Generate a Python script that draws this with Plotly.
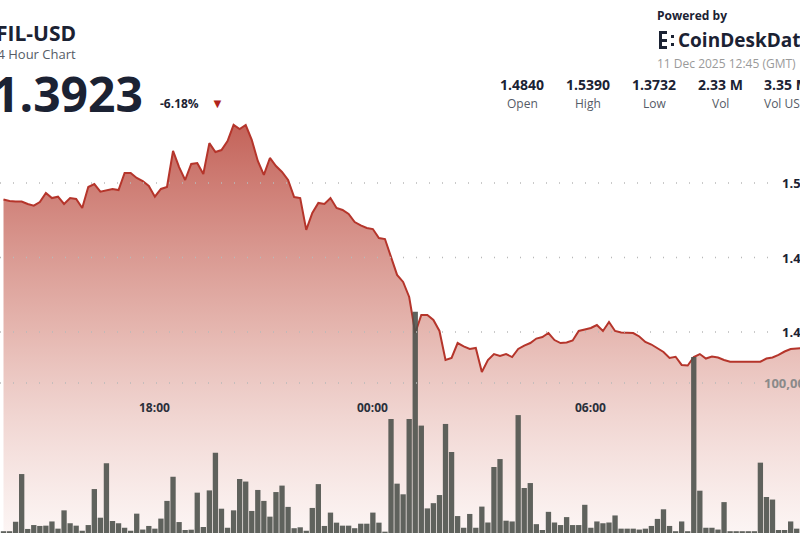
import plotly.graph_objects as go
import pandas as pd

prices = [1.4889,1.4879,1.4876,1.4876,1.4859,1.4848,1.4872,1.4933,1.4899,1.4908,
1.4859,1.4899,1.4893,1.4832,1.4973,1.4993,1.4942,1.4953,1.4960,1.4953,
1.5067,1.5067,1.5034,1.5013,1.4980,1.4908,1.4960,1.4973,1.5215,1.5107,
1.5020,1.5128,1.5134,1.5060,1.5268,1.5208,1.5221,1.5282,1.5390,1.5362,
1.5389,1.5289,1.5148,1.5054,1.5168,1.5114,1.5074,1.5020,1.4906,1.4899,
1.4685,1.4799,1.4866,1.4859,1.4899,1.4832,1.4819,1.4792,1.4738,1.4715,
1.4698,1.4691,1.4631,1.4624,1.4510,1.4383,1.4336,1.4235,1.3993,1.4114,
1.4114,1.4081,1.4007,1.3812,1.3826,1.3926,1.3903,1.3886,1.3893,1.3732,
1.3812,1.3852,1.3839,1.3852,1.3832,1.3886,1.3909,1.3926,1.3956,1.3966,
1.3993,1.3946,1.3926,1.3930,1.3943,1.4007,1.4017,1.4027,1.4047,1.4007,
1.4067,1.4007,1.3997,1.3995,1.3993,1.3970,1.3933,1.3916,1.3893,1.3866,
1.3826,1.3834,1.3779,1.3775,1.3832,1.3852,1.3822,1.3836,1.3829,1.3812,
1.3801,1.3801,1.3801,1.3801,1.3801,1.3801,1.3822,1.3829,1.3846,1.3869,
1.3886,1.3891,1.3893]

volumes = [1200,1200,7500,39300,2700,5300,4700,4900,7700,2900,
15100,6500,4900,1500,5300,29300,10200,46500,8000,6500,
3500,1500,12900,2300,4700,2900,9600,21400,37500,7300,
2000,2200,26900,4000,28400,53500,16200,3500,15100,36000,
34300,14700,28700,21400,10900,27300,31600,17400,3200,3800,
1500,16700,32600,4700,13600,6900,4900,4900,3200,6200,
6200,13600,6900,900,76000,32900,25800,76000,147500,71600,
16400,19900,25300,72700,54000,11300,3500,12700,3500,17600,
7000,44000,49300,8200,7700,78600,30000,33300,5900,2000,
14100,7000,5300,10600,5300,5300,18800,3500,7700,6500,
7000,11700,2900,2900,2900,2300,2900,4700,9400,15800,
4700,1200,7700,1200,117300,28200,3500,3500,2300,20600,
1200,1200,1200,1200,1200,46900,24000,22300,2000,2000,
7700,2900,14100]

t_start = pd.Timestamp("2025-12-10 13:50")
times_p = pd.date_range(t_start, periods=len(prices), freq="10min")
times_v = pd.date_range(t_start, periods=len(volumes), freq="10min")

price_ticks = [1.50, 1.45, 1.40]
price_tick_text = ["1.50", "1.45", "1.40"]
vol_ticks = [100000]
vol_tick_text = ["100,000"]
time_ticks = ["2025-12-10 18:00", "2025-12-11 00:00", "2025-12-11 06:00", "2025-12-11 12:00"]
time_tick_text = ["18:00", "00:00", "06:00", "12:00"]

stat_values = ["1.4840", "1.5390", "1.3732", "2.33 M", "3.35 M"]
stat_labels = ["Open", "High", "Low", "Vol", "Vol USD"]

W, H = 800, 533
px_per_hour = 36.33
x0 = t_start - pd.Timedelta(hours=3.5 / px_per_hour)
x1 = x0 + pd.Timedelta(hours=W / px_per_hour)
ybot = 1.5 - (H - 183) / 1490
ytop = 1.5 + 183 / 1490
vmax = 100000 * H / 150

fig = go.Figure()
fig.add_trace(go.Scatter(
    x=times_p, y=prices, mode="lines",
    line=dict(color="#b5352b", width=2),
    fill="tozeroy",
    fillgradient=dict(type="vertical", start=ybot, stop=1.54,
                      colorscale=[[0, "rgba(250,238,236,0.6)"], [0.5, "rgba(224,168,160,0.85)"], [1, "rgba(192,90,80,0.95)"]]),
    hoverinfo="skip"))
fig.add_trace(go.Bar(
    x=times_v, y=volumes, yaxis="y2",
    marker=dict(color="rgba(78,82,76,0.9)", line=dict(width=0)),
    hoverinfo="skip"))

fig.update_layout(
    width=W, height=H, margin=dict(l=0, r=0, t=0, b=0),
    paper_bgcolor="white", plot_bgcolor="white", showlegend=False, bargap=0.12,
    xaxis=dict(range=[x0, x1], showgrid=False, showticklabels=False, zeroline=False, showline=False),
    yaxis=dict(range=[ybot, ytop], showgrid=False, showticklabels=False, zeroline=False),
    yaxis2=dict(range=[0, vmax], overlaying="y", showgrid=False, showticklabels=False, zeroline=False),
    font=dict(family="Open Sans", color="#1b2233"),
)

dot = dict(color="#b9b9b9", width=1.5, dash="1px,12px")
for v, txt in zip(price_ticks, price_tick_text):
    fig.add_shape(type="line", xref="paper", yref="y", x0=0.0, x1=0.965, y0=v, y1=v, line=dot, layer="above")
    fig.add_annotation(xref="paper", yref="y", x=0.975, y=v, text="<b>%s</b>" % txt, showarrow=False,
                       xanchor="left", font=dict(size=13, color="#1b2233"))
for v, txt in zip(vol_ticks, vol_tick_text):
    fig.add_shape(type="line", xref="paper", yref="y2", x0=0.0, x1=0.95, y0=v, y1=v, line=dot, layer="above")
    fig.add_annotation(xref="paper", yref="y2", x=0.953, y=v, text="<b>%s</b>" % txt, showarrow=False,
                       xanchor="left", font=dict(size=13, color="#8a8a8a"))
for t, txt in zip(time_ticks, time_tick_text):
    fig.add_annotation(xref="x", yref="paper", x=t, y=1 - 418 / H, text="<b>%s</b>" % txt, showarrow=False,
                       font=dict(size=12, color="#2a2f3a"))

def ann(x, y, text, size, color="#1b2233", anchor="left", bold=False):
    fig.add_annotation(xref="paper", yref="paper", x=x / W, y=1 - y / H, text=("<b>%s</b>" % text) if bold else text,
                       showarrow=False, xanchor=anchor, yanchor="middle", font=dict(size=size, color=color))

ann(-6, 33, "FIL-USD", 21, bold=True)
ann(-12, 54, "24 Hour Chart", 13, color="#555b66")
ann(-10, 93, "1.3923", 48, bold=True)
ann(158, 103, "-6.18%", 12, bold=True)
ann(209, 103, "▼", 13, color="#b0231b")
ann(655, 15, "Powered by", 12, bold=True)
ann(676, 40, "CoinDeskData", 19, bold=True)
ann(655, 63, "11 Dec 2025 12:45 (GMT)", 12, color="#9a9a9a")
for i, (v, l) in enumerate(zip(stat_values, stat_labels)):
    cx = 522 + 66 * i
    ann(cx, 84, v, 14, anchor="center", bold=True)
    ann(cx, 103, l, 12, color="#555b66", anchor="center")

def rect(xa, xb, ya, yb):
    fig.add_shape(type="rect", xref="paper", yref="paper", x0=xa / W, x1=xb / W, y0=1 - yb / H, y1=1 - ya / H,
                  fillcolor="#1b2233", line=dict(width=0))
rect(659, 662, 31, 49)
for yy in (31, 39, 46):
    rect(662, 667, yy, yy + 3)
for yy in (35, 43):
    rect(671, 674, yy, yy + 3)

fig.write_html("out.html", config={"displayModeBar": False},
               post_script="document.body.style.margin='0';document.body.style.overflow='hidden';")
